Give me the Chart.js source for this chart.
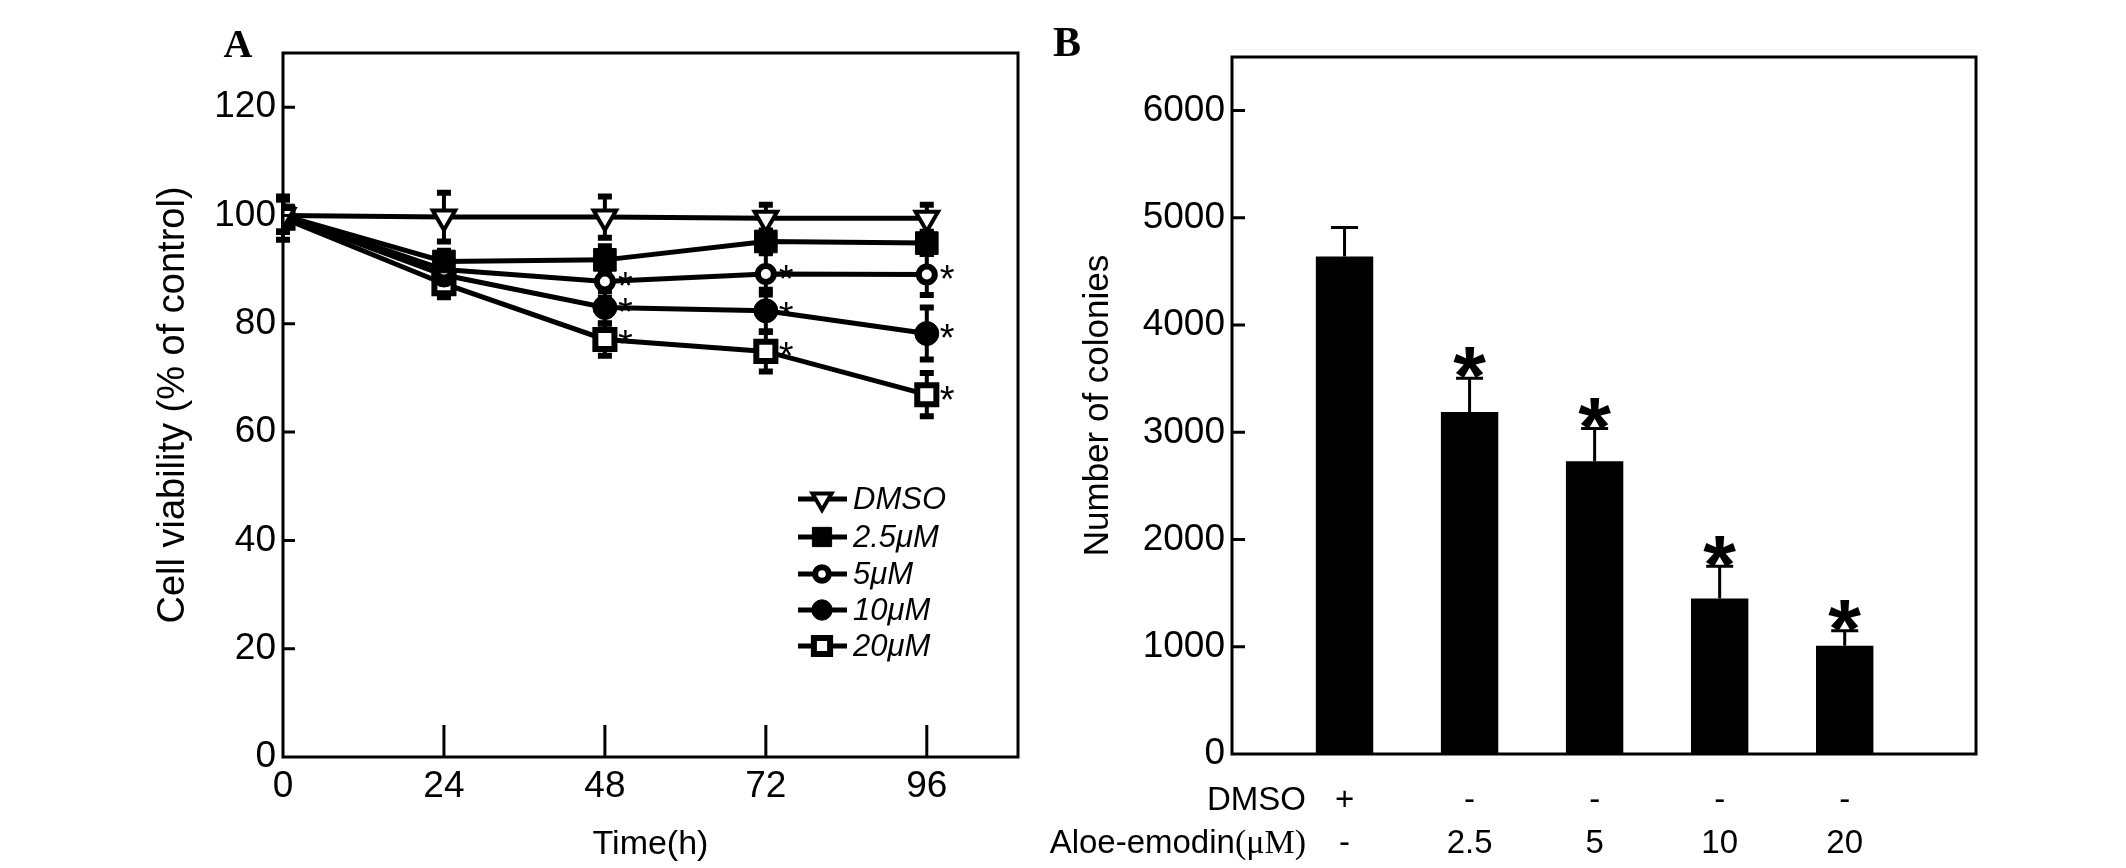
<!DOCTYPE html>
<html>
<head>
<meta charset="utf-8">
<script src="https://cdn.jsdelivr.net/npm/chart.js@4.4.1/dist/chart.umd.min.js"></script>
<style>
  html, body { margin: 0; padding: 0; background: #fff; }
  #wrap { position: relative; width: 2126px; height: 868px; overflow: hidden; }
  canvas { position: absolute; top: 0; }
  #chartA { left: 0; }
  #chartB { left: 1040px; }
</style>
</head>
<body>
<div id="wrap">
  <canvas id="chartA" width="1040" height="868"></canvas>
  <canvas id="chartB" width="1086" height="868"></canvas>
</div>
<script>
const SANS = "'Liberation Sans', Arial, sans-serif"
const SERIF = "'Liberation Serif', 'Times New Roman', serif"

// ---- panel A: cell viability over time ----
const timePoints = [0, 24, 48, 72, 96]
const timeTicks = [0, 24, 48, 72, 96]
const viabilityTicks = [0, 20, 40, 60, 80, 100, 120]

const seriesLabels = ['DMSO', '2.5\u03bcM', '5\u03bcM', '10\u03bcM', '20\u03bcM']
const dmsoViability = [100, 99.7, 99.7, 99.5, 99.5]
const dmsoErr = [3, 4.5, 3.8, 2.5, 2.5]
const aloe2_5Viability = [100, 91.5, 91.8, 95.2, 94.9]
const aloe2_5Err = [3, 2, 2.5, 2, 2]
const aloe5Viability = [100, 90, 87.8, 89.2, 89.1]
const aloe5Err = [3, 2, 3, 3.8, 3.8]
const aloe10Viability = [100, 89, 83, 82.4, 78.2]
const aloe10Err = [3, 2.5, 3, 3.9, 4.8]
const aloe20Viability = [99.5, 87.4, 77.1, 74.9, 66.9]
const aloe20Err = [4, 2.5, 3, 3.7, 4]
// which time points are marked with * (per series)
const viabilitySignificant = [
  [false, false, false, false, false],
  [false, false, false, false, false],
  [false, false, true, true, true],
  [false, false, true, true, true],
  [false, false, true, true, true],
]

// ---- panel B: colony formation ----
const colonyGroups = [1, 2, 3, 4, 5]
const dmsoRow = ['+', '-', '-', '-', '-']
const aloeRow = ['-', '2.5', '5', '10', '20']
const colonies = [4640, 3190, 2730, 1450, 1010]
const coloniesErr = [270, 315, 305, 300, 140]
const coloniesSignificant = [false, true, true, true, true]
const colonyTicks = [0, 1000, 2000, 3000, 4000, 5000, 6000]

const markerStyles = [
  { pointStyle: 'triangle', rotation: 180, radius: 13, fill: '#fff', borderWidth: 4 },
  { pointStyle: 'rect', rotation: 0, radius: 16, fill: '#000', borderWidth: 1 },
  { pointStyle: 'circle', rotation: 0, radius: 8, fill: '#fff', borderWidth: 6 },
  { pointStyle: 'circle', rotation: 0, radius: 12, fill: '#000', borderWidth: 1 },
  { pointStyle: 'rect', rotation: 0, radius: 13.5, fill: '#fff', borderWidth: 6 },
]
const viabilityValues = [dmsoViability, aloe2_5Viability, aloe5Viability, aloe10Viability, aloe20Viability]
const viabilityErrs = [dmsoErr, aloe2_5Err, aloe5Err, aloe10Err, aloe20Err]

const setTicks = (values) => (scale) => { scale.ticks = values.map(value => ({ value })) }

const frameAndTicks = (chart, xTickValues, xTickLen, yTickValues, yTickLen) => {
  const { ctx, chartArea } = chart
  const { x, y } = chart.scales
  ctx.save()
  ctx.strokeStyle = '#000'
  ctx.lineWidth = 3
  ctx.strokeRect(chartArea.left, chartArea.top, chartArea.right - chartArea.left, chartArea.bottom - chartArea.top)
  ctx.beginPath()
  xTickValues.forEach(v => {
    const px = x.getPixelForValue(v)
    ctx.moveTo(px, chartArea.bottom)
    ctx.lineTo(px, chartArea.bottom - xTickLen)
  })
  yTickValues.forEach(v => {
    const py = y.getPixelForValue(v)
    ctx.moveTo(chartArea.left, py)
    ctx.lineTo(chartArea.left + yTickLen, py)
  })
  ctx.stroke()
  ctx.restore()
}

const drawMarker = (ctx, style, px, py) => {
  ctx.fillStyle = style.fill
  ctx.strokeStyle = '#000'
  ctx.lineWidth = style.borderWidth
  Chart.helpers.drawPoint(ctx, style, px, py)
}

const viabilityPlugin = {
  id: 'viabilityExtras',
  beforeDatasetsDraw(chart) {
    const { ctx } = chart
    const { x, y } = chart.scales
    ctx.save()
    ctx.strokeStyle = '#000'
    viabilityValues.forEach((values, s) => {
      values.forEach((v, i) => {
        const err = viabilityErrs[s][i]
        const px = x.getPixelForValue(timePoints[i])
        const top = y.getPixelForValue(v + err)
        const bottom = y.getPixelForValue(v - err)
        ctx.lineWidth = 4
        ctx.beginPath()
        ctx.moveTo(px, top)
        ctx.lineTo(px, bottom)
        ctx.stroke()
        ctx.lineWidth = 6
        ctx.beginPath()
        ctx.moveTo(px - 7, top)
        ctx.lineTo(px + 7, top)
        ctx.moveTo(px - 7, bottom)
        ctx.lineTo(px + 7, bottom)
        ctx.stroke()
      })
    })
    ctx.restore()
  },
  afterDatasetsDraw(chart) {
    const { ctx } = chart
    const { x, y } = chart.scales

    frameAndTicks(chart, timeTicks.slice(1), 32, viabilityTicks.slice(1), 12)

    ctx.save()
    ctx.fillStyle = '#000'
    ctx.textBaseline = 'alphabetic'
    ctx.textAlign = 'left'
    ctx.font = `38px ${SANS}`
    viabilityValues.forEach((values, s) => {
      values.forEach((v, i) => {
        if (!viabilitySignificant[s][i]) return
        const px = x.getPixelForValue(timePoints[i])
        const py = y.getPixelForValue(v)
        ctx.fillText('*', px + 13, py - 4 + 0.575 * 38)
      })
    })

    // legend inside the plot
    const legendX = 798, legendY = [499, 537, 574, 610, 646]
    seriesLabels.forEach((label, s) => {
      const ly = legendY[s]
      ctx.strokeStyle = '#000'
      ctx.lineWidth = 5
      ctx.beginPath()
      ctx.moveTo(legendX, ly)
      ctx.lineTo(legendX + 49, ly)
      ctx.stroke()
      drawMarker(ctx, { ...markerStyles[s], radius: markerStyles[s].radius * 0.85 }, legendX + 24, ly)
      ctx.fillStyle = '#000'
      ctx.font = `italic 31px ${SANS}`
      ctx.textBaseline = 'middle'
      ctx.fillText(label, legendX + 55, ly + 1)
    })

    ctx.font = `bold 40px ${SERIF}`
    ctx.textAlign = 'center'
    ctx.textBaseline = 'middle'
    ctx.fillText('A', 238, 47)
    ctx.restore()
  }
}

new Chart(document.getElementById('chartA'), {
  type: 'line',
  data: {
    datasets: viabilityValues.map((values, s) => ({
      label: seriesLabels[s],
      data: timePoints.map((t, i) => ({ x: t, y: values[i] })),
      borderColor: '#000',
      borderWidth: 5,
      tension: 0,
      pointStyle: markerStyles[s].pointStyle,
      pointRotation: markerStyles[s].rotation,
      pointRadius: markerStyles[s].radius,
      pointBackgroundColor: markerStyles[s].fill,
      pointBorderColor: '#000',
      pointBorderWidth: markerStyles[s].borderWidth,
    }))
  },
  options: {
    responsive: false,
    animation: false,
    devicePixelRatio: 1,
    layout: { padding: { left: 0, right: 22, top: 53, bottom: 0 } },
    plugins: { legend: { display: false }, tooltip: { enabled: false } },
    scales: {
      x: {
        type: 'linear', min: 0, max: 109.6,
        grid: { display: false, drawTicks: false },
        border: { display: false },
        afterBuildTicks: setTicks(timeTicks),
        afterFit: (scale) => { scale.height = 111 },
        ticks: { color: '#000', font: { family: SANS, size: 37 }, padding: 8, maxRotation: 0, autoSkip: false },
        title: { display: true, text: 'Time(h)', color: '#000', font: { family: SANS, size: 34 }, padding: { top: 0, bottom: 3 } },
      },
      y: {
        min: 0, max: 130,
        grid: { display: false, drawTicks: false },
        border: { display: false },
        afterBuildTicks: setTicks(viabilityTicks),
        afterFit: (scale) => { scale.width = 283 },
        ticks: { color: '#000', font: { family: SANS, size: 37 }, padding: 7 },
        title: { display: true, text: 'Cell viability (% of control)', color: '#000', font: { family: SANS, size: 38 }, padding: { top: 151, bottom: 0 } },
      }
    }
  },
  plugins: [viabilityPlugin]
})

const colonyPlugin = {
  id: 'colonyExtras',
  afterDatasetsDraw(chart) {
    const { ctx, chartArea } = chart
    const { x, y } = chart.scales
    ctx.save()
    ctx.strokeStyle = '#000'
    ctx.fillStyle = '#000'
    colonies.forEach((v, i) => {
      const px = x.getPixelForValue(colonyGroups[i])
      const base = y.getPixelForValue(v)
      const top = y.getPixelForValue(v + coloniesErr[i])
      ctx.lineWidth = 3
      ctx.beginPath()
      ctx.moveTo(px, base)
      ctx.lineTo(px, top)
      ctx.moveTo(px - 13.5, top)
      ctx.lineTo(px + 13.5, top)
      ctx.stroke()
      if (coloniesSignificant[i]) {
        ctx.font = `bold 84px ${SANS}`
        ctx.textAlign = 'center'
        ctx.textBaseline = 'alphabetic'
        ctx.fillText('*', px, top - 21 + 0.575 * 84)
      }
    })

    frameAndTicks(chart, [], 0, colonyTicks.slice(1), 13)

    // two-row category labels under the axis
    const row1 = chartArea.bottom + 47
    const row2 = chartArea.bottom + 90
    ctx.font = `33px ${SANS}`
    ctx.textBaseline = 'middle'
    ctx.textAlign = 'center'
    colonyGroups.forEach((g, i) => {
      const px = x.getPixelForValue(g)
      ctx.fillText(dmsoRow[i], px, row1)
      ctx.fillText(aloeRow[i], px, row2)
    })
    const headerRight = chartArea.left + 74
    ctx.textAlign = 'right'
    ctx.fillText('DMSO', headerRight, row1)
    ctx.font = `34px ${SERIF}`
    const unit = '(\u03bcM)'
    const unitWidth = ctx.measureText(unit).width
    ctx.fillText(unit, headerRight, row2)
    ctx.font = `33px ${SANS}`
    ctx.fillText('Aloe-emodin', headerRight - unitWidth, row2)

    ctx.font = `bold 42px ${SERIF}`
    ctx.textAlign = 'center'
    ctx.fillText('B', 27, 45)
    ctx.restore()
  }
}

new Chart(document.getElementById('chartB'), {
  type: 'bar',
  data: {
    datasets: [{
      label: 'Number of colonies',
      data: colonyGroups.map((g, i) => ({ x: g, y: colonies[i] })),
      backgroundColor: '#000',
      borderWidth: 0,
      barPercentage: 0.51,
      categoryPercentage: 1,
    }]
  },
  options: {
    responsive: false,
    animation: false,
    devicePixelRatio: 1,
    layout: { padding: { left: 0, right: 150, top: 57, bottom: 0 } },
    plugins: { legend: { display: false }, tooltip: { enabled: false } },
    scales: {
      x: {
        type: 'linear', min: 0.1, max: 6.05, offset: false,
        grid: { display: false, drawTicks: false },
        border: { display: false },
        ticks: { display: false },
        afterFit: (scale) => { scale.height = 114 },
      },
      y: {
        min: 0, max: 6500,
        grid: { display: false, drawTicks: false },
        border: { display: false },
        afterBuildTicks: setTicks(colonyTicks),
        afterFit: (scale) => { scale.width = 192 },
        ticks: { color: '#000', font: { family: SANS, size: 37 }, padding: 7, callback: (value) => String(value) },
        title: { display: true, text: 'Number of colonies', color: '#000', font: { family: SANS, size: 35 }, padding: { top: 37, bottom: 0 } },
      }
    }
  },
  plugins: [colonyPlugin]
})
</script>
</body>
</html>
